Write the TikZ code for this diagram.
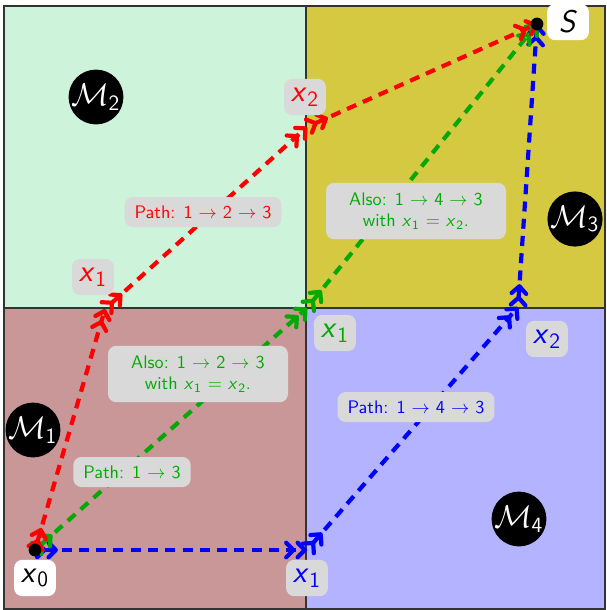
\documentclass[tikz,border=0pt]{standalone}
\usetikzlibrary{arrows.meta}
\definecolor{cTL}{RGB}{205,243,218}
\definecolor{cTR}{RGB}{214,201,66}
\definecolor{cBL}{RGB}{201,151,151}
\definecolor{cBR}{RGB}{179,179,255}
\definecolor{cG}{RGB}{0,170,0}
\definecolor{lbl}{RGB}{217,217,217}
\newcommand\xv[1]{\textit{x}\kern0.3pt\textsubscript{#1}}
\newcommand\mm[1]{$\mathcal{M}$\kern-0.5pt\textsubscript{#1}}
\newcommand\ar{~$\to$~}
\begin{document}
\begin{tikzpicture}[x=0.55pt,y=-0.55pt,font=\sffamily,
  region/.style={draw=black!80,line width=0.6pt},
  route/.style={line width=2.3pt,dash pattern=on 5.5pt off 4pt,
    arrows={{Straight Barb[reversed,length=4pt,width=8pt,round]Straight Barb[reversed,length=4pt,width=8pt,round]}-{Straight Barb[length=4pt,width=8pt,round]Straight Barb[length=4pt,width=8pt,round]}}},
  dot/.style={circle,fill=black,inner sep=0pt,minimum size=7pt},
  bigl/.style={rounded corners=4.5pt,minimum width=23pt,minimum height=20pt,inner sep=1pt,font=\LARGE\sffamily},
  whitel/.style={bigl,fill=white,text=black},
  grayl/.style={bigl,fill=lbl},
  mcirc/.style={circle,fill=black,text=white,minimum size=29pt,inner sep=0pt,font=\LARGE\sffamily},
  note/.style={rounded corners=4.5pt,fill=lbl,inner xsep=5.5pt,minimum height=16.5pt,align=center},
  note2/.style={rounded corners=4.5pt,fill=lbl,minimum width=99pt,minimum height=31pt,align=center}
]
\useasboundingbox (0,0) rectangle (606,610);
% regions
\fill[cTL] (4,6) rectangle (306,308);
\fill[cTR] (306,6) rectangle (605,308);
\fill[cBL] (4,308) rectangle (306,609);
\fill[cBR] (306,308) rectangle (605,609);
\draw[region] (4,6) rectangle (605,609);
\draw[region] (306,6) -- (306,609);
\draw[region] (4,308) -- (605,308);
% points
\coordinate (x0) at (35,550);
\coordinate (bx1) at (307,550);
\coordinate (bx2) at (518,307);
\coordinate (S) at (537,24);
\coordinate (rx1) at (105,309);
\coordinate (rx2) at (307,127);
\coordinate (gx1) at (307,308);
% routes
\draw[route,blue] (x0) -- (bx1);
\draw[route,blue] (bx1) -- (bx2);
\draw[route,blue] (bx2) -- (S);
\draw[route,cG] (x0) -- (gx1);
\draw[route,cG] (gx1) -- (S);
\draw[route,red] (x0) -- (rx1);
\draw[route,red] (rx1) -- (rx2);
\draw[route,red] (rx2) -- (S);
% dots
\node[dot] (d0) at (x0) {};
\node[dot] (dS) at (S) {};
% labels
\node[whitel] (lx0) at (35,578) {\xv{0}};
\node[whitel] (lS) at (568,22) {\textit{S}};
\node[grayl,text=blue] (lbx1) at (307,578) {\xv{1}};
\node[grayl,text=blue] (lbx2) at (547,339) {\xv{2}};
\node[grayl,text=red] (lrx2) at (305,97) {\xv{2}};
\node[grayl,text=red] (lrx1) at (93,277) {\xv{1}};
\node[grayl,text=cG] (lgx1) at (335,333) {\xv{1}};
\node[mcirc] (m2) at (96,97) {\mm{2}};
\node[mcirc] (m3) at (575,219) {\mm{3}};
\node[mcirc] (m1) at (33,430) {\mm{1}};
\node[mcirc] (m4) at (519,519) {\mm{4}};
\node[note,text=red] (n1) at (203,212) {Path: 1\ar 2\ar 3};
\node[note,text=cG] (n2) at (132,472) {Path: 1\ar 3};
\node[note,text=blue] (n3) at (416,407) {Path: 1\ar 4\ar 3};
\node[note2,text=cG] (n4) at (416,211) {Also: 1\ar 4\ar 3\\with \xv{1}~$=$~\xv{2}.};
\node[note2,text=cG] (n5) at (198,374) {Also: 1\ar 2\ar 3\\with \xv{1}~$=$~\xv{2}.};
\end{tikzpicture}
\end{document}
